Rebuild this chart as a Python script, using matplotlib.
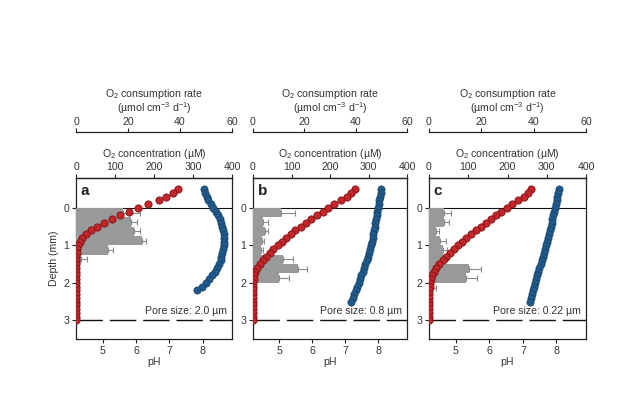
import numpy as np
import matplotlib
matplotlib.use("Agg")
import matplotlib.pyplot as plt
import matplotlib.transforms as mtransforms

plt.rcParams['font.family'] = ['Liberation Sans', 'DejaVu Sans']
plt.rcParams['mathtext.default'] = 'regular'
plt.rcParams['font.size'] = 7.6

TXT = '#333333'
FS = 7.6

# ---- data ----
panel_letters = ['a', 'b', 'c']
pore_sizes = ['Pore size: 2.0 µm', 'Pore size: 0.8 µm', 'Pore size: 0.22 µm']

# O2 consumption rate bins (mm depth, centres of 0.25 mm bins)
rate_depth_a = [0.125, 0.375, 0.625, 0.875, 1.125, 1.375]
rate_a = [18.0, 21.0, 22.2, 25.4, 12.2, 1.8]
rate_err_a = [6.5, 2.5, 2.3, 1.5, 1.9, 2.3]

rate_depth_b = [0.125, 0.375, 0.625, 0.875, 1.125, 1.375, 1.625, 1.875]
rate_b = [11.0, 4.0, 4.5, 3.5, 3.0, 11.8, 17.6, 10.0]
rate_err_b = [5.3, 2.0, 1.2, 0.8, 1.0, 3.7, 3.6, 3.9]

rate_depth_c = [0.125, 0.375, 0.625, 0.875, 1.125, 1.375, 1.625, 1.875, 2.125]
rate_c = [5.6, 5.6, 2.8, 4.3, 5.2, 5.5, 15.3, 14.3, 0.9]
rate_err_c = [2.7, 1.9, 1.0, 2.2, 1.5, 1.5, 4.4, 4.1, 1.9]

# O2 concentration profiles (uM)
o2_depth = [-0.5, -0.4, -0.3, -0.2, -0.1, 0.0, 0.1, 0.2, 0.3, 0.4, 0.5, 0.6,
            0.7, 0.8, 0.9, 1.0, 1.1, 1.2, 1.3, 1.4, 1.5, 1.6, 1.7, 1.8, 1.9,
            2.0, 2.1, 2.2, 2.3, 2.4, 2.5, 2.6, 2.7, 2.8, 2.9, 3.0]
o2_a = [262, 248, 232, 212, 185, 160, 135, 113, 93, 73, 55, 38,
        25, 15, 9, 5, 3, 2, 1, 1, 1, 1, 1, 1, 1,
        1, 1, 1, 1, 1, 1, 1, 1, 1, 1, 1]
o2_b = [264, 255, 244, 228, 210, 196, 181, 165, 151, 137, 124, 110,
        99, 87, 75, 65, 53, 44, 34, 25, 17, 10, 5, 3, 2,
        1, 1, 1, 1, 1, 1, 1, 1, 1, 1, 1]
o2_c = [261, 252, 242, 228, 212, 198, 184, 171, 158, 144, 132, 120,
        108, 95, 83, 74, 63, 53, 43, 35, 26, 18, 13, 8, 5,
        3, 2, 1, 1, 1, 1, 1, 1, 1, 1, 1]

# pH profiles
ph_depth_a = [-0.5, -0.4, -0.3, -0.2, -0.1, 0.0, 0.1, 0.2, 0.3, 0.4, 0.5, 0.6,
              0.7, 0.8, 0.9, 1.0, 1.1, 1.2, 1.3, 1.4, 1.5, 1.6, 1.7, 1.8,
              1.9, 2.0, 2.1, 2.2]
ph_a = [8.05, 8.08, 8.12, 8.17, 8.24, 8.32, 8.40, 8.47, 8.52, 8.56, 8.59, 8.61,
        8.63, 8.64, 8.64, 8.63, 8.61, 8.58, 8.56, 8.54, 8.50, 8.44, 8.37, 8.29,
        8.20, 8.10, 7.98, 7.82]
ph_depth_bc = [-0.5, -0.4, -0.3, -0.2, -0.1, 0.0, 0.1, 0.2, 0.3, 0.4, 0.5, 0.6,
               0.7, 0.8, 0.9, 1.0, 1.1, 1.2, 1.3, 1.4, 1.5, 1.6, 1.7, 1.8,
               1.9, 2.0, 2.1, 2.2, 2.3, 2.4, 2.5]
ph_b = [8.10, 8.08, 8.06, 8.04, 8.02, 8.00, 7.98, 7.96, 7.94, 7.92, 7.90, 7.88,
        7.86, 7.84, 7.82, 7.80, 7.77, 7.73, 7.69, 7.65, 7.61, 7.57, 7.53, 7.49,
        7.45, 7.41, 7.37, 7.33, 7.28, 7.23, 7.19]
ph_c = [8.07, 8.05, 8.03, 8.01, 7.98, 7.96, 7.93, 7.91, 7.88, 7.86, 7.83, 7.80,
        7.77, 7.75, 7.72, 7.69, 7.66, 7.63, 7.60, 7.56, 7.53, 7.49, 7.46, 7.42,
        7.39, 7.36, 7.32, 7.29, 7.26, 7.23, 7.20]

panels = [
    (rate_depth_a, rate_a, rate_err_a, o2_a, ph_depth_a, ph_a),
    (rate_depth_b, rate_b, rate_err_b, o2_b, ph_depth_bc, ph_b),
    (rate_depth_c, rate_c, rate_err_c, o2_c, ph_depth_bc, ph_c),
]

# axes boxes in pixels (left, right) ; top 178, bottom 339 in a 641x394 figure
W, H = 641, 394
boxes = [(76, 232), (253, 407), (429, 586)]
top_px, bot_px = 178, 339

fig = plt.figure(figsize=(W / 100, H / 100), dpi=100)

for i, (x0, x1) in enumerate(boxes):
    rd, rv, re, o2, phd, ph = panels[i]
    ax = fig.add_axes([x0 / W, 1 - bot_px / H, (x1 - x0) / W, (bot_px - top_px) / H])
    ax_rate = ax.twiny()
    ax_conc = ax.twiny()

    # pH (main axes)
    ax.set_xlim(4.2, 8.88)
    ax.set_ylim(3.5, -0.8)
    ax.set_xticks([5, 6, 7, 8])
    ax.set_yticks([0, 1, 2, 3])
    ax.tick_params(direction='out', length=3, width=0.8, colors='#222222',
                   labelcolor=TXT, labelsize=FS, pad=2, top=False)
    ax.set_xlabel('pH', color=TXT, fontsize=FS, labelpad=1)
    if i == 0:
        ax.set_ylabel('Depth (mm)', color=TXT, fontsize=FS, labelpad=3)
    for s in ax.spines.values():
        s.set_linewidth(0.9)
        s.set_color('#222222')

    ax.axhline(0, color='#111111', lw=0.8, zorder=1)
    ax.axhline(3, color='#111111', lw=1.0, dashes=(19, 5), zorder=1)

    ax.plot(ph, phd, 'o', ms=5.2, mfc='#1f5a8c', mec='#163f66', mew=0.5, zorder=3)

    # consumption rate (grey bars)
    ax_rate.set_xlim(0, 60)
    ax_rate.barh(rd, rv, height=0.25, color='#999999', zorder=1)
    ax_rate.errorbar(rv, rd, xerr=[np.zeros(len(re)), re], fmt='none',
                     ecolor='#8a8a8a', elinewidth=0.8, capsize=2, capthick=0.8)
    ax_rate.set_xticks([0, 20, 40, 60])
    ax_rate.spines['top'].set_position(('outward', 33))
    for side in ['left', 'right', 'bottom']:
        ax_rate.spines[side].set_visible(False)
    ax_rate.spines['top'].set_linewidth(0.9)
    ax_rate.spines['top'].set_color('#222222')
    ax_rate.tick_params(direction='out', length=3, width=0.8, colors='#222222',
                        labelcolor=TXT, labelsize=FS, pad=1)
    ax_rate.set_xlabel('O$_2$ consumption rate\n(µmol cm$^{-3}$ d$^{-1}$)',
                       color=TXT, fontsize=FS, labelpad=3, linespacing=1.0)
    ax_rate.xaxis.set_label_position('top')

    # O2 concentration (red)
    ax_conc.set_xlim(0, 400)
    ax_conc.errorbar(o2, o2_depth, xerr=7, fmt='o', ms=5.2, mfc='#c4262b',
                     mec='#7d1214', mew=0.6, ecolor='#5a0e0e', elinewidth=1.0,
                     capsize=1.2, capthick=0.8, zorder=4)
    ax_conc.set_xticks([0, 100, 200, 300, 400])
    for side in ['left', 'right', 'bottom']:
        ax_conc.spines[side].set_visible(False)
    ax_conc.spines['top'].set_linewidth(0.9)
    ax_conc.spines['top'].set_color('#222222')
    ax_conc.tick_params(direction='out', length=3, width=0.8, colors='#222222',
                        labelcolor=TXT, labelsize=FS, pad=1)
    ax_conc.set_xlabel('O$_2$ concentration (µM)', color=TXT, fontsize=FS, labelpad=4)
    ax_conc.xaxis.set_label_position('top')

    # annotations
    trans = mtransforms.blended_transform_factory(ax.transAxes, ax.transData)
    ax.text(0.03, -0.45, panel_letters[i], transform=trans, fontsize=11,
            fontweight='bold', color='#222222', va='center', ha='left', zorder=5)
    ax.text(0.965, 2.76, pore_sizes[i], transform=trans, fontsize=FS,
            color=TXT, va='center', ha='right', zorder=5)

fig.savefig('out.png', dpi=100)
